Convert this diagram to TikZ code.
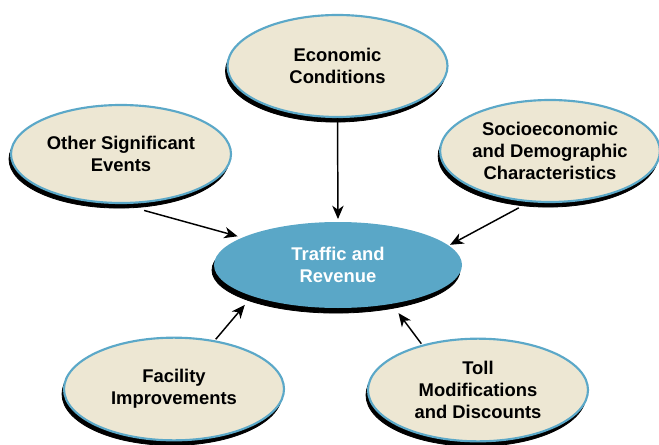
\documentclass[tikz,border=0pt]{standalone}
\usepackage{fontspec}
\setmainfont{Liberation Sans}
\usetikzlibrary{shapes.geometric,shadows,arrows.meta}
\definecolor{creamfill}{HTML}{EDE7D3}
\definecolor{bluerim}{HTML}{5BA8C8}
\definecolor{bluefill}{HTML}{5AA7C7}
\begin{document}
\begin{tikzpicture}[x=0.75pt,y=-0.75pt,
  bub/.style={ellipse,inner sep=0pt,fill=creamfill,draw=bluerim,line width=1.6pt,
    align=center,font=\fontsize{13.8pt}{16.2pt}\selectfont\bfseries,text=black,
    drop shadow={shadow xshift=-1.5pt,shadow yshift=-3.8pt,fill=black,opacity=1,draw=black,line width=0.6pt}},
  hub/.style={ellipse,inner sep=0pt,fill=bluefill,draw=none,
    align=center,font=\fontsize{13.8pt}{16.2pt}\selectfont\bfseries,text=white,
    drop shadow={shadow xshift=-1.5pt,shadow yshift=-3.8pt,fill=black,opacity=1,draw=black,line width=0.6pt}},
  link/.style={line width=1.1pt,-{Stealth[length=10pt,width=8.5pt,inset=3pt]}}]
\useasboundingbox (0,0) rectangle (659,445);
\node[bub,minimum width=165pt,minimum height=76.5pt] (eco) at (337.5,66) {Economic\\Conditions};
\node[bub,minimum width=165pt,minimum height=73.5pt] (oth) at (121,154) {Other Significant\\Events};
\node[bub,minimum width=161pt,minimum height=76.5pt] (soc) at (550,151) {Socioeconomic\\and Demographic\\Characteristics};
\node[hub,minimum width=186pt,minimum height=64.5pt] (tr) at (338,265) {Traffic and\\Revenue};
\node[bub,minimum width=165pt,minimum height=77pt] (fac) at (174,389) {Facility\\Improvements};
\node[bub,minimum width=165pt,minimum height=77pt] (toll) at (478,390) {Toll\\Modifications\\and Discounts};
\draw[link,shorten >=2pt] (eco.south) -- (tr.north);
\draw[link,shorten <=18pt,shorten >=3.5pt] (oth.south) -- (tr.164);
\draw[link,shorten <=9pt,shorten >=1pt] (soc.-112) -- (tr.10.6);
\draw[link,shorten <=1pt,shorten >=8.5pt] (fac.50) -- (tr.200.6);
\draw[link,shorten <=1pt,shorten >=8.5pt] (toll.141) -- (tr.-36.4);
\end{tikzpicture}
\end{document}
